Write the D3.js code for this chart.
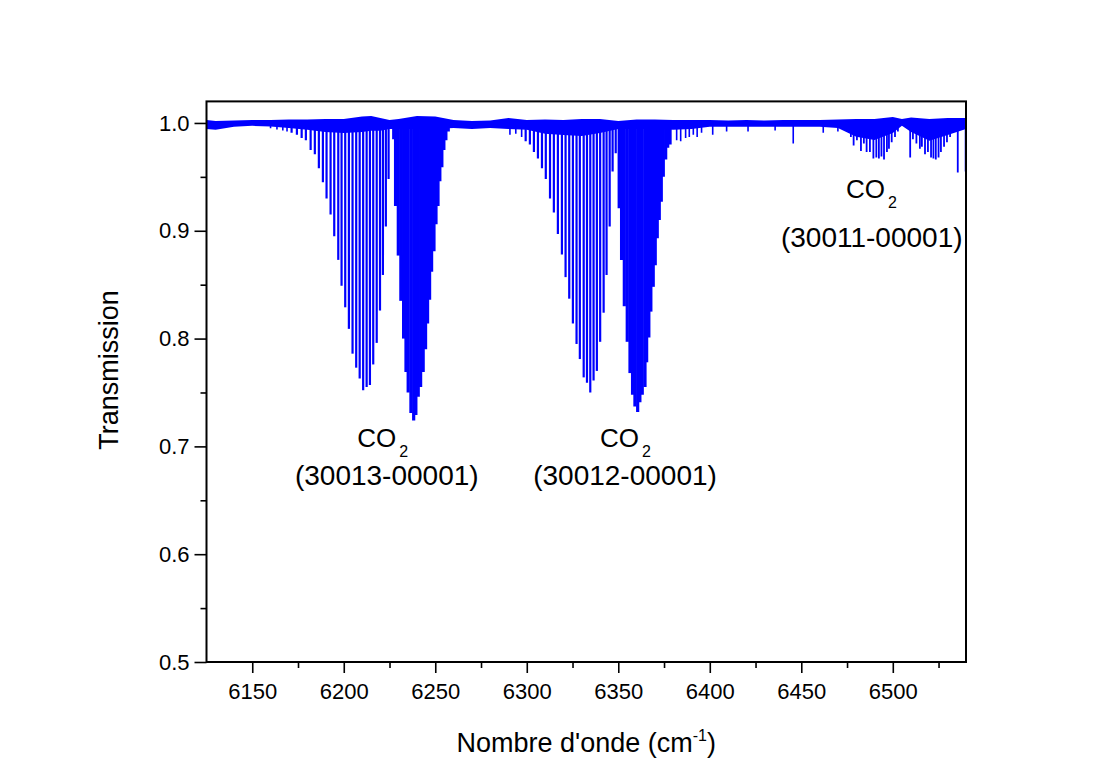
<!DOCTYPE html>
<html>
<head>
<meta charset="utf-8">
<script src="https://cdn.jsdelivr.net/npm/d3@7/dist/d3.min.js"></script>
<style>
  html, body { margin: 0; padding: 0; background: #ffffff; }
  svg { display: block; font-family: "Liberation Sans", Arial, sans-serif; }
</style>
</head>
<body>
<svg id="chart" width="1105" height="782"></svg>
<script>
// ---------------- data ----------------
const xTicks = [6150, 6200, 6250, 6300, 6350, 6400, 6450, 6500];
const xMinorTicks = [6175, 6225, 6275, 6325, 6375, 6425, 6475, 6525];
const yTicks = [0.5, 0.6, 0.7, 0.8, 0.9, 1.0];
const yMinorTicks = [0.55, 0.65, 0.75, 0.85, 0.95];

// noisy baseline band (upper / lower edge of the trace)
const baseWn = [6125, 6130, 6140, 6150, 6160, 6170, 6180, 6190, 6200, 6210, 6215, 6220, 6225, 6230, 6240, 6250, 6260, 6270, 6280, 6290, 6300, 6310, 6320, 6330, 6340, 6350, 6360, 6370, 6380, 6390, 6400, 6410, 6420, 6430, 6440, 6450, 6460, 6470, 6480, 6490, 6500, 6505, 6510, 6520, 6530, 6540];
const baseTop = [1.0027, 1.0018, 1.0022, 1.0027, 1.0027, 1.0032, 1.0032, 1.0036, 1.0036, 1.0060, 1.0065, 1.0046, 1.0027, 1.0036, 1.0065, 1.0060, 1.0027, 1.0018, 1.0022, 1.0046, 1.0027, 1.0032, 1.0027, 1.0036, 1.0036, 1.0018, 1.0032, 1.0032, 1.0027, 1.0027, 1.0027, 1.0022, 1.0027, 1.0022, 1.0027, 1.0027, 1.0027, 1.0032, 1.0036, 1.0036, 1.0055, 1.0036, 1.0050, 1.0036, 1.0046, 1.0046];
const baseBottom = [0.9945, 0.9936, 0.9964, 0.9973, 0.9968, 0.9954, 0.9936, 0.9917, 0.9908, 0.9917, 0.9927, 0.9927, 0.9945, 0.9945, 0.9945, 0.9945, 0.9954, 0.9945, 0.9954, 0.9945, 0.9936, 0.9899, 0.9889, 0.9880, 0.9908, 0.9945, 0.9945, 0.9945, 0.9936, 0.9945, 0.9964, 0.9964, 0.9964, 0.9964, 0.9964, 0.9964, 0.9964, 0.9954, 0.9871, 0.9843, 0.9908, 0.9973, 0.9917, 0.9834, 0.9889, 0.9945];

// CO2 30013-00001 band
const band1PWn = [6171.5, 6174.4, 6177.0, 6179.3, 6181.9, 6184.2, 6186.4, 6188.6, 6190.6, 6192.8, 6194.8, 6197.0, 6198.8, 6200.8, 6202.8, 6204.8, 6206.8, 6208.7, 6210.6, 6212.5, 6214.3, 6216.1, 6218.0, 6219.8, 6221.4, 6223.0, 6224.5];
const band1PT  = [0.991, 0.989, 0.986, 0.984, 0.975, 0.971, 0.958, 0.945, 0.930, 0.915, 0.895, 0.873, 0.849, 0.829, 0.809, 0.786, 0.773, 0.763, 0.752, 0.755, 0.757, 0.776, 0.796, 0.826, 0.859, 0.904, 0.948];
const band1RWn = [6227.3, 6228.3, 6229.8, 6231.2, 6232.7, 6234.0, 6235.2, 6236.7, 6238.2, 6239.4, 6240.7, 6242.0, 6243.4, 6244.7, 6245.8, 6246.9, 6248.0, 6249.3, 6250.4, 6251.5, 6252.5, 6253.6, 6254.7, 6255.8, 6257.1, 6258.9];
const band1RT  = [0.985, 0.923, 0.877, 0.835, 0.800, 0.769, 0.750, 0.731, 0.724, 0.729, 0.746, 0.755, 0.769, 0.790, 0.814, 0.836, 0.862, 0.881, 0.906, 0.923, 0.946, 0.959, 0.975, 0.984, 0.992, 0.996];

// CO2 30012-00001 band
const band2PWn = [6299.4, 6301.7, 6303.9, 6306.1, 6308.3, 6310.4, 6312.7, 6314.8, 6317.0, 6319.2, 6321.2, 6323.2, 6325.2, 6327.2, 6329.0, 6331.1, 6332.9, 6334.7, 6336.5, 6338.3, 6340.1, 6342.0, 6343.6, 6345.3, 6346.9, 6348.6];
const band2PT  = [0.983, 0.980, 0.973, 0.967, 0.958, 0.948, 0.930, 0.917, 0.897, 0.878, 0.857, 0.837, 0.814, 0.795, 0.781, 0.764, 0.759, 0.750, 0.761, 0.770, 0.797, 0.824, 0.859, 0.904, 0.955, 0.972];
const band2RWn = [6350.5, 6351.8, 6353.3, 6354.9, 6356.4, 6357.8, 6359.1, 6360.6, 6361.8, 6363.1, 6364.6, 6365.5, 6366.7, 6367.8, 6369.1, 6370.2, 6371.3, 6372.4, 6373.5, 6374.6, 6375.9, 6377.0, 6378.3];
const band2RT  = [0.921, 0.873, 0.830, 0.797, 0.768, 0.748, 0.737, 0.732, 0.741, 0.748, 0.755, 0.778, 0.801, 0.825, 0.848, 0.868, 0.893, 0.910, 0.927, 0.950, 0.966, 0.977, 0.980];

// CO2 30011-00001 band
const band3Wn = [6477.1, 6478.6, 6480.4, 6482.6, 6484.2, 6485.7, 6487.5, 6489.4, 6491.0, 6492.4, 6493.8, 6495.2, 6496.8, 6497.9, 6499.4, 6501.2, 6502.8, 6509.5, 6511.0, 6512.9, 6514.8, 6515.9, 6517.6, 6519.2, 6520.9, 6522.2, 6523.5, 6525.0, 6526.3, 6528.0, 6529.6, 6531.3, 6535.5, 6539.8];
const band3T  = [0.987, 0.979, 0.984, 0.974, 0.981, 0.973, 0.973, 0.967, 0.968, 0.967, 0.969, 0.966, 0.973, 0.976, 0.982, 0.987, 0.992, 0.968, 0.985, 0.981, 0.976, 0.978, 0.971, 0.973, 0.968, 0.967, 0.966, 0.968, 0.973, 0.978, 0.982, 0.987, 0.954, 0.955];

// weak isolated lines
const weakWn = [6160.0, 6163.5, 6166.7, 6169.0, 6290.8, 6294.0, 6297.2, 6381.9, 6384.1, 6386.8, 6388.8, 6391.0, 6393.1, 6395.5, 6401.6, 6409.2, 6420.9, 6435.7, 6445.6, 6462.0, 6470.0];
const weakT  = [0.995, 0.994, 0.993, 0.992, 0.989, 0.990, 0.987, 0.984, 0.983, 0.986, 0.987, 0.989, 0.987, 0.991, 0.989, 0.992, 0.992, 0.993, 0.981, 0.991, 0.992];

// annotation texts and their anchor points (data units)
const labelBands = ["(30013-00001)", "(30012-00001)", "(30011-00001)"];
const labelCoWn = [6207.4, 6340.0, 6474.4];
const labelCoT = [0.6992, 0.6992, 0.9302];
const labelBandWn = [6223.5, 6353.7, 6488.5];
const labelBandT = [0.6642, 0.6642, 0.8853];

// ---------------- drawing ----------------
(function () {
const svg = d3.select("#chart");
const pL = 206.5, pR = 966, pT = 101.4, pB = 662;
const x = d3.scaleLinear().domain([6125, 6540]).range([pL, pR]);
const y = d3.scaleLinear().domain([0.5, 1.02]).range([pB, pT]);
const blue = "#0000ff";

svg.append("defs").append("clipPath").attr("id", "plotClip")
  .append("rect").attr("x", pL).attr("y", pT).attr("width", pR - pL).attr("height", pB - pT);

const plot = svg.append("g").attr("clip-path", "url(#plotClip)");

// baseline band
const baseData = baseWn.map((w, i) => ({ w, t: baseTop[i], b: baseBottom[i] }));
plot.append("path")
  .datum(baseData)
  .attr("fill", blue)
  .attr("d", d3.area().x(d => x(d.w)).y0(d => y(d.b)).y1(d => y(d.t)));

function sticks(wns, ts, width) {
  const data = wns.map((w, i) => ({ w, t: ts[i] }));
  plot.append("g").selectAll("line").data(data).join("line")
    .attr("x1", d => x(d.w)).attr("x2", d => x(d.w))
    .attr("y1", y(1.0)).attr("y2", d => y(d.t))
    .attr("stroke", blue).attr("stroke-width", width);
}
sticks(weakWn, weakT, 1.6);
sticks(band1PWn, band1PT, 2.2);
sticks(band1RWn, band1RT, 3.2);
sticks(band2PWn, band2PT, 2.2);
sticks(band2RWn, band2RT, 3.2);
sticks(band3Wn, band3T, 1.8);

// axes
const axisFont = "22px";
const ff = "'Liberation Sans', Arial, sans-serif";
const xAxis = svg.append("g").attr("transform", `translate(0,${pB})`)
  .call(d3.axisBottom(x).tickValues(xTicks).tickFormat(d3.format("d")).tickSize(11).tickPadding(10));
xAxis.select(".domain").remove();
xAxis.selectAll("line").attr("stroke", "#000").attr("stroke-width", 1.6);
xAxis.selectAll("text").attr("font-size", axisFont).attr("fill", "#000").attr("font-family", ff);

const xMinor = svg.append("g").attr("transform", `translate(0,${pB})`)
  .call(d3.axisBottom(x).tickValues(xMinorTicks).tickFormat("").tickSize(6));
xMinor.select(".domain").remove();
xMinor.selectAll("line").attr("stroke", "#000").attr("stroke-width", 1.6);

const yAxis = svg.append("g").attr("transform", `translate(${pL},0)`)
  .call(d3.axisLeft(y).tickValues(yTicks).tickFormat(d3.format(".1f")).tickSize(12).tickPadding(5));
yAxis.select(".domain").remove();
yAxis.selectAll("line").attr("stroke", "#000").attr("stroke-width", 1.6);
yAxis.selectAll("text").attr("font-size", axisFont).attr("fill", "#000").attr("font-family", ff);

const yMinor = svg.append("g").attr("transform", `translate(${pL},0)`)
  .call(d3.axisLeft(y).tickValues(yMinorTicks).tickFormat("").tickSize(6));
yMinor.select(".domain").remove();
yMinor.selectAll("line").attr("stroke", "#000").attr("stroke-width", 1.6);

// frame
svg.append("rect")
  .attr("x", pL).attr("y", pT).attr("width", pR - pL).attr("height", pB - pT)
  .attr("fill", "none").attr("stroke", "#000").attr("stroke-width", 2);

// axis titles
const xt = svg.append("text")
  .attr("x", (pL + pR) / 2).attr("y", 752)
  .attr("text-anchor", "middle").attr("font-size", "27px").attr("fill", "#000");
xt.append("tspan").text("Nombre d'onde (cm");
xt.append("tspan").attr("font-size", "16px").attr("dy", "-11").text("-1");
xt.append("tspan").attr("dy", "11").text(")");

svg.append("text")
  .attr("transform", "translate(118,370) rotate(-90)")
  .attr("text-anchor", "middle").attr("font-size", "27px").attr("fill", "#000")
  .text("Transmission");

// annotations
labelBands.forEach((lab, i) => {
  const co = svg.append("text")
    .attr("x", x(labelCoWn[i])).attr("y", y(labelCoT[i]))
    .attr("font-size", "26px").attr("fill", "#000");
  co.append("tspan").text("CO");
  co.append("tspan").attr("font-size", "16px").attr("dx", "3").attr("dy", "10").text("2");
  svg.append("text")
    .attr("x", x(labelBandWn[i])).attr("y", y(labelBandT[i]))
    .attr("text-anchor", "middle").attr("font-size", "28px").attr("fill", "#000")
    .text(lab);
});
})();
</script>
</body>
</html>
